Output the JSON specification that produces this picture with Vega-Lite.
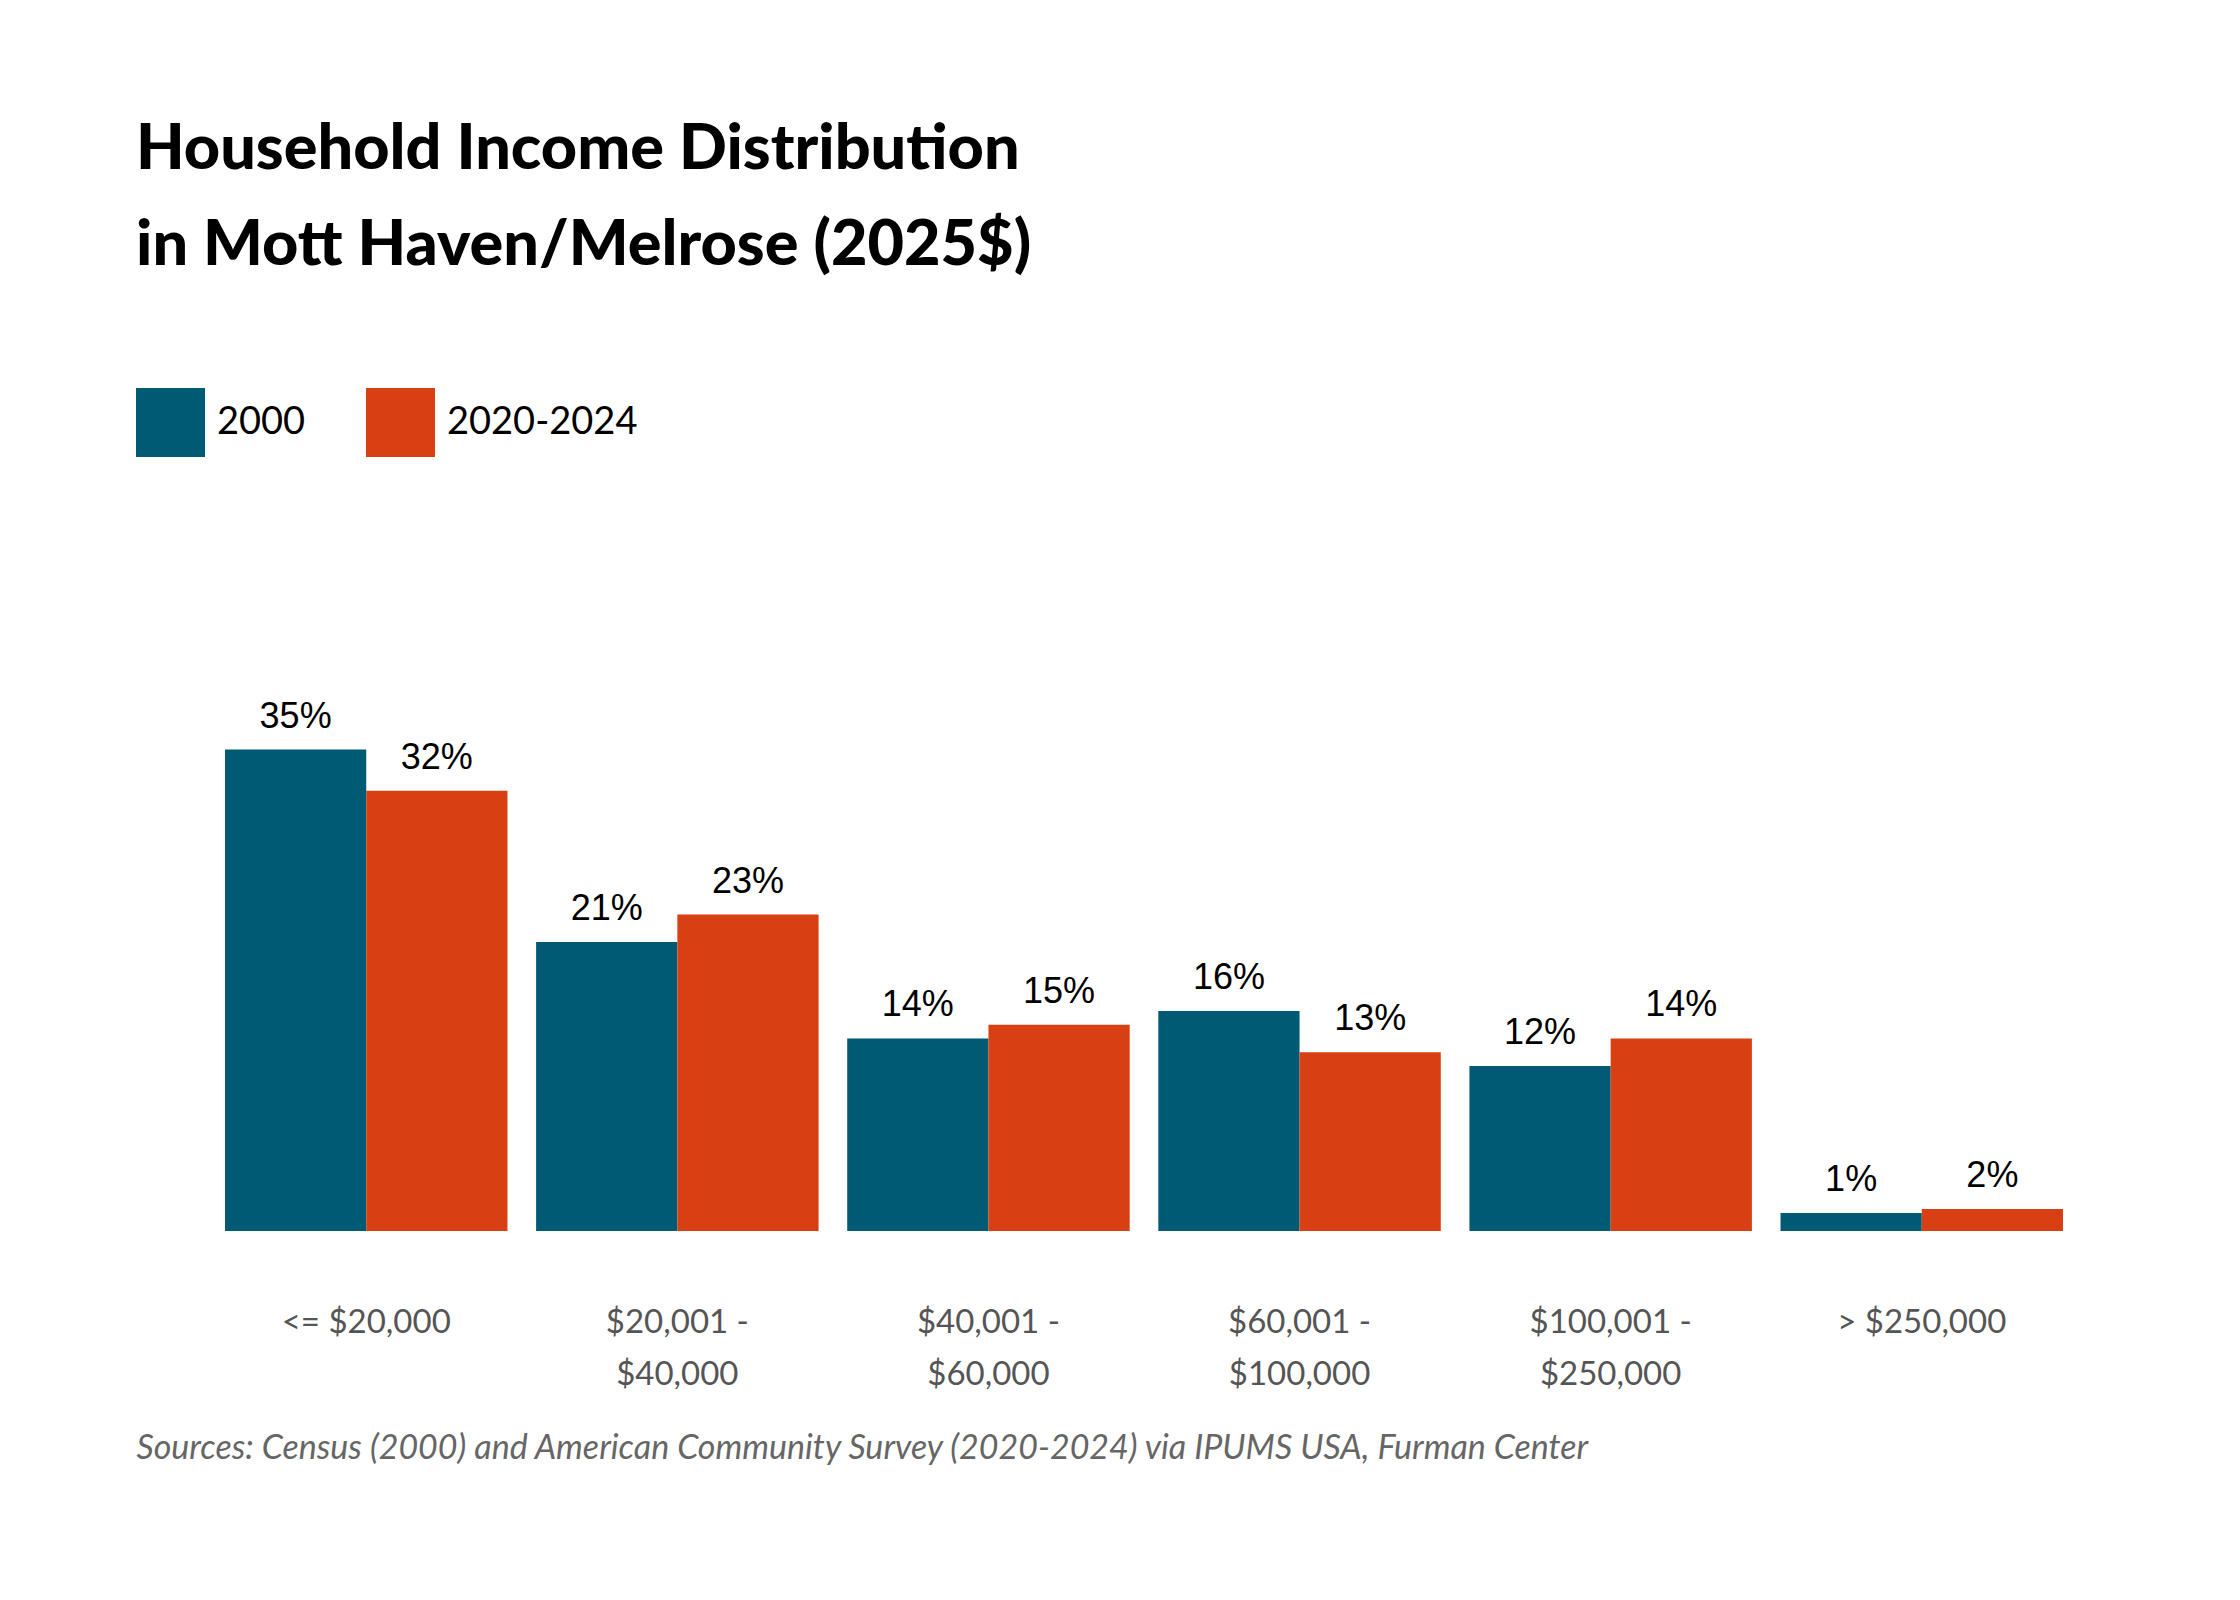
{
  "$schema": "https://vega.github.io/schema/vega-lite/v6.json",
  "width": 1838,
  "height": 531,
  "autosize": "none",
  "padding": {"left": 225, "top": 700, "right": 177, "bottom": 369},
  "background": "white",
  "config": {"view": {"stroke": null}},
  "title": {
    "text": ["Household Income Distribution", "in Mott Haven/Melrose (2025$)"],
    "anchor": "start",
    "dx": -89,
    "frame": "group",
    "offset": 110,
    "font": "Lato",
    "fontWeight": 900,
    "fontSize": 63,
    "lineHeight": 96,
    "color": "#000000"
  },
  "data": {
    "values": [
      {"bracket": "<= $20,000", "period": "2000", "value": 0.35},
      {"bracket": "<= $20,000", "period": "2020-2024", "value": 0.32},
      {"bracket": "$20,001 -|$40,000", "period": "2000", "value": 0.21},
      {"bracket": "$20,001 -|$40,000", "period": "2020-2024", "value": 0.23},
      {"bracket": "$40,001 -|$60,000", "period": "2000", "value": 0.14},
      {"bracket": "$40,001 -|$60,000", "period": "2020-2024", "value": 0.15},
      {"bracket": "$60,001 -|$100,000", "period": "2000", "value": 0.16},
      {"bracket": "$60,001 -|$100,000", "period": "2020-2024", "value": 0.13},
      {"bracket": "$100,001 -|$250,000", "period": "2000", "value": 0.12},
      {"bracket": "$100,001 -|$250,000", "period": "2020-2024", "value": 0.14},
      {"bracket": "> $250,000", "period": "2000", "value": 0.013},
      {"bracket": "> $250,000", "period": "2020-2024", "value": 0.016}
    ]
  },
  "encoding": {
    "x": {
      "field": "bracket", "type": "nominal", "sort": null,
      "scale": {"paddingInner": 0.092, "paddingOuter": 0},
      "axis": {
        "title": "Sources: Census (2000) and American Community Survey (2020-2024) via IPUMS USA, Furman Center",
        "titleAnchor": "start", "titleX": -89, "titleY": 227, "titleBaseline": "alphabetic",
        "titleFont": "Lato", "titleFontStyle": "italic", "titleFontWeight": "normal",
        "titleFontSize": 34, "titleColor": "#666666",
        "labelExpr": "split(datum.label, '|')",
        "labelAngle": 0, "labelBaseline": "middle", "labelPadding": 91,
        "labelLineHeight": 52, "labelFont": "Lato", "labelFontSize": 33,
        "labelColor": "#555555", "ticks": false, "domain": false, "labelLimit": 400,
        "encode": {"labels": {"update": {"dy": {"signal": "indexof(datum.value, '|') >= 0 ? 0 : 26"}}}}
      }
    },
    "xOffset": {"field": "period", "type": "nominal"},
    "y": {
      "field": "value", "type": "quantitative",
      "scale": {"domain": [0, 0.386]}, "axis": null
    }
  },
  "layer": [
    {
      "mark": {"type": "bar"},
      "encoding": {
        "color": {
          "field": "period", "type": "nominal",
          "scale": {"domain": ["2000", "2020-2024"], "range": ["#005a74", "#d84013"]},
          "legend": {
            "title": null, "orient": "none", "direction": "horizontal",
            "legendX": -89, "legendY": -312,
            "symbolType": "square", "symbolSize": 4761, "symbolStrokeWidth": 0,
            "symbolOpacity": 1, "labelLimit": 400,
            "labelFont": "Lato", "labelFontSize": 38, "labelColor": "#000000",
            "labelOffset": 12, "columnPadding": 60
          }
        }
      }
    },
    {
      "mark": {"type": "text", "baseline": "bottom", "dy": -14, "font": "Liberation Sans", "fontSize": 36, "color": "#000000"},
      "encoding": {
        "text": {"field": "value", "type": "quantitative", "format": ".0%"}
      }
    }
  ]
}
